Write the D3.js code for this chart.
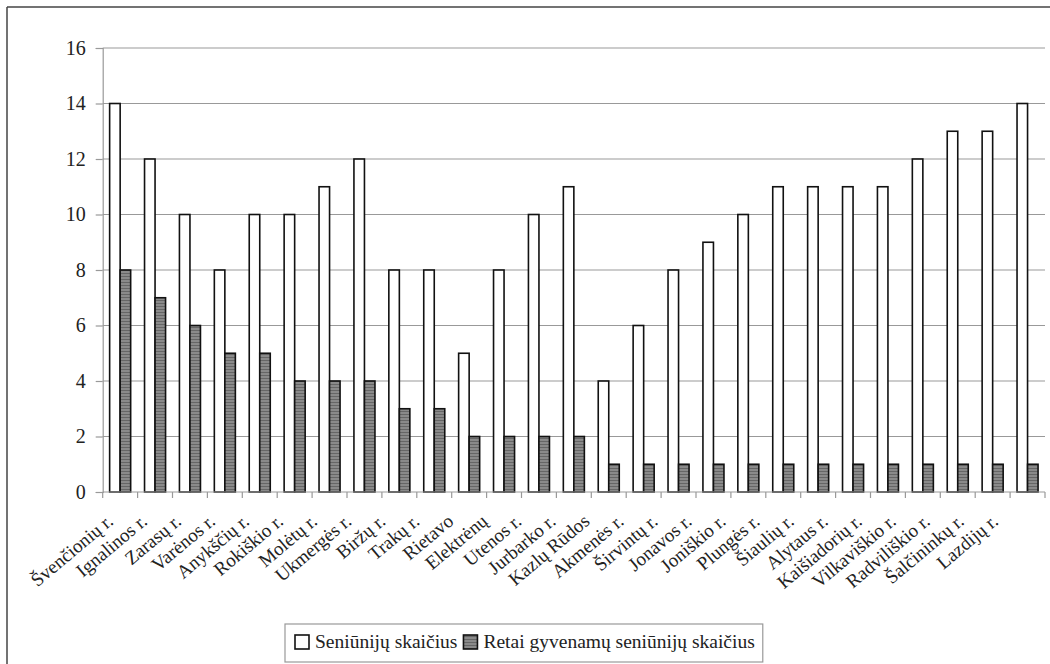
<!DOCTYPE html>
<html><head><meta charset="utf-8">
<script src="https://cdn.jsdelivr.net/npm/d3@7"></script>
<style>body{margin:0;background:#fff}svg{display:block}</style>
</head><body><svg id="c" width="1050" height="664"></svg>
<script>
const categories = ["Švenčionių r.","Ignalinos r.","Zarasų r.","Varėnos r.","Anykščių r.","Rokiškio r.","Molėtų r.","Ukmergės r.","Biržų r.","Trakų r.","Rietavo","Elektrėnų","Utenos r.","Jurbarko r.","Kazlų Rūdos","Akmenės r.","Širvintų r.","Jonavos r.","Joniškio r.","Plungės r.","Šiaulių r.","Alytaus r.","Kaišiadorių r.","Vilkaviškio r.","Radviliškio r.","Šalčininkų r.","Lazdijų r."];
const seniunijos = [14,12,10,8,10,10,11,12,8,8,5,8,10,11,4,6,8,9,10,11,11,11,11,12,13,13,14];
const retai = [8,7,6,5,5,4,4,4,3,3,2,2,2,2,1,1,1,1,1,1,1,1,1,1,1,1,1];
const seriesNames = ["Seniūnijų skaičius","Retai gyvenamų seniūnijų skaičius"];
const yTicks = [0,2,4,6,8,10,12,14,16];

const FONT = "'Liberation Serif', 'Times New Roman', Tinos, 'DejaVu Serif', serif";
const svg = d3.select("#c");
const defs = svg.append("defs");
const pat = defs.append("pattern").attr("id","hatch").attr("patternUnits","userSpaceOnUse").attr("width",4).attr("height",3);
pat.append("rect").attr("width",4).attr("height",3).attr("fill","#8a8a8a");
pat.append("rect").attr("width",4).attr("height",1).attr("fill","#666");

// frame
svg.append("line").attr("x1",7).attr("y1",7).attr("x2",1050).attr("y2",7).attr("stroke","#444").attr("stroke-width",1.5);
svg.append("line").attr("x1",7).attr("y1",7).attr("x2",7).attr("y2",664).attr("stroke","#444").attr("stroke-width",1.5);

const x = d3.scaleBand().domain(categories).range([102.7,1045]).paddingInner(0).paddingOuter(0);
const xs = d3.scaleBand().domain(seriesNames).range([0,x.bandwidth()]).paddingInner(0).paddingOuter(0.66);
const y = d3.scaleLinear().domain([0,16]).range([492,48]);
const xl = d3.scalePoint().domain(categories).range([110,995]);

// gridlines
svg.append("g").selectAll("line").data(yTicks.filter(d=>d>0)).join("line")
  .attr("x1",102.7).attr("x2",1045).attr("y1",d=>y(d)).attr("y2",d=>y(d))
  .attr("stroke","#999").attr("stroke-width",1.2);

// y axis
const ya = svg.append("g").attr("transform","translate(102.7,0)")
  .call(d3.axisLeft(y).tickValues(yTicks).tickSize(7).tickPadding(10));
ya.attr("font-family",null);
ya.select(".domain").attr("stroke","#999").attr("stroke-width",1.2);
ya.selectAll(".tick line").attr("stroke","#999").attr("stroke-width",1.2);
ya.selectAll("text").style("font-family",FONT).style("font-size","20px").attr("fill","#222");

// bars
const g = svg.append("g");
categories.forEach((c,i)=>{
  g.append("rect").attr("x",x(c)+xs(seriesNames[0])).attr("width",xs.bandwidth())
    .attr("y",y(seniunijos[i])).attr("height",y(0)-y(seniunijos[i]))
    .attr("fill","#fff").attr("stroke","#111").attr("stroke-width",1.6);
  g.append("rect").attr("x",x(c)+xs(seriesNames[1])).attr("width",xs.bandwidth())
    .attr("y",y(retai[i])).attr("height",y(0)-y(retai[i]))
    .attr("fill","url(#hatch)").attr("stroke","#111").attr("stroke-width",1.6);
});

// x axis
svg.append("line").attr("x1",102.7).attr("x2",1045).attr("y1",y(0)).attr("y2",y(0)).attr("stroke","#999").attr("stroke-width",1.2);
const bounds = categories.map(c=>x(c)).concat([x.range()[1]]);
svg.append("g").selectAll("line").data(bounds).join("line")
  .attr("x1",d=>d).attr("x2",d=>d).attr("y1",y(0)).attr("y2",y(0)+6).attr("stroke","#999").attr("stroke-width",1.2);
svg.append("g").selectAll("text").data(categories).join("text")
  .attr("transform",d=>`translate(${xl(d)},${y(0)+26}) rotate(-40)`)
  .attr("text-anchor","end").attr("dy","0.35em")
  .style("font-family",FONT).style("font-size","19px").attr("fill","#222").text(d=>d);

// legend
const lg = svg.append("g");
const box = lg.append("rect").attr("x",285).attr("y",624).attr("height",38).attr("fill","#fff").attr("stroke","#999").attr("stroke-width",1.2);
let cx = 295;
seriesNames.forEach((s,i)=>{
  lg.append("rect").attr("x",cx).attr("y",635).attr("width",14).attr("height",14)
    .attr("fill",i===0?"#fff":"url(#hatch)").attr("stroke","#111").attr("stroke-width",1.6);
  const t = lg.append("text").attr("x",cx+20).attr("y",648)
    .style("font-family",FONT).style("font-size","19.5px").attr("fill","#222").text(s);
  cx += 20 + t.node().getComputedTextLength() + 6;
});
box.attr("width",cx-285+2);
</script></body></html>
